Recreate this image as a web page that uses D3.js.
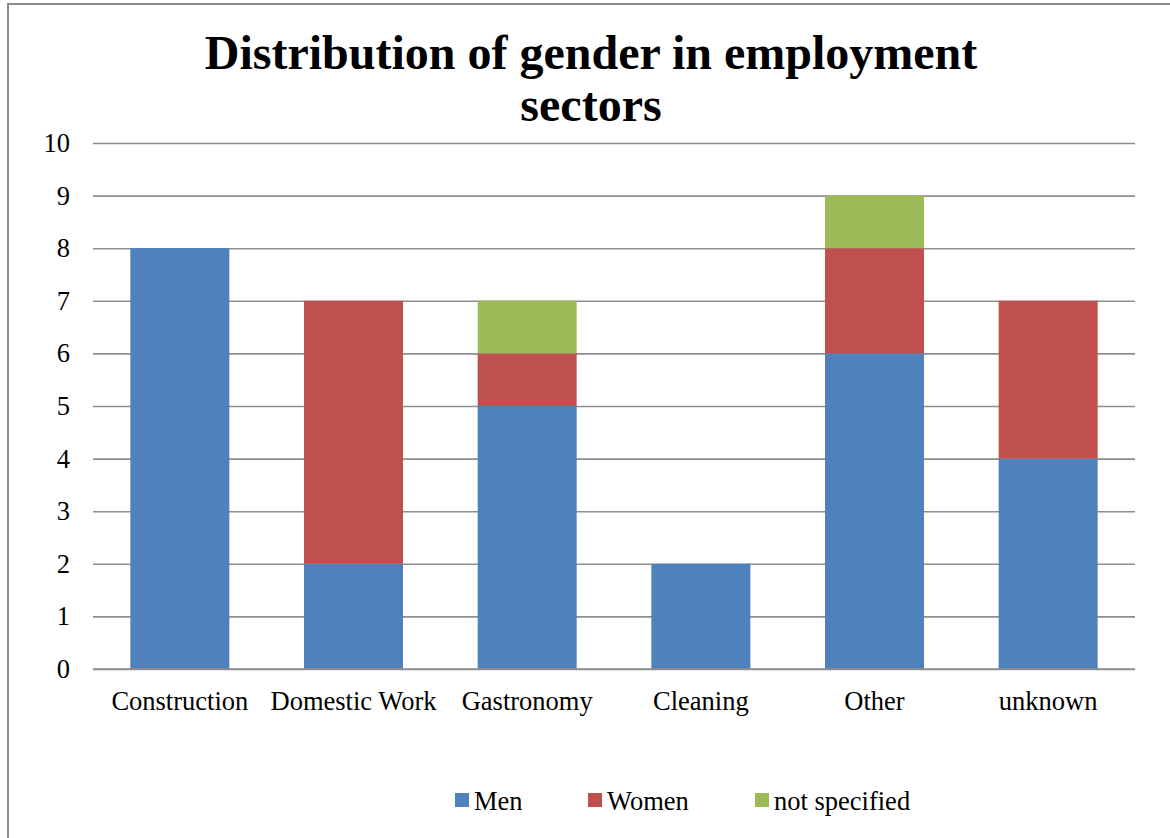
<!DOCTYPE html>
<html>
<head>
<meta charset="utf-8">
<script src="https://cdn.jsdelivr.net/npm/d3@7"></script>
<style>
  html, body { margin: 0; padding: 0; background: #fff; }
  svg { display: block; }
  svg text { font-family: "Liberation Serif", "Times New Roman", serif !important; }
</style>
</head>
<body>
<svg id="chart" width="1170" height="838"></svg>
<script>
// Sectors and head counts per gender
const sectors = ["Construction", "Domestic Work", "Gastronomy", "Cleaning", "Other", "unknown"];
const seriesNames = ["Men", "Women", "not specified"];
const men = [8, 2, 5, 2, 6, 4];
const women = [0, 5, 1, 0, 2, 3];
const notSpecified = [0, 0, 1, 0, 1, 0];
const yTicks = [0, 1, 2, 3, 4, 5, 6, 7, 8, 9, 10];
const colors = ["#4F81BD", "#C0504D", "#9BBB59"];
const titleLines = ["Distribution of gender in employment", "sectors"];

const rows = sectors.map((s, i) => ({
  sector: s,
  "Men": men[i],
  "Women": women[i],
  "not specified": notSpecified[i]
}));

const svg = d3.select("#chart");
const plot = { left: 93, right: 1135, top: 143, bottom: 669 };

// outer chart frame
svg.append("rect")
  .attr("x", 8).attr("y", 4)
  .attr("width", 1180).attr("height", 860)
  .attr("fill", "none")
  .attr("stroke", "#8c8c8c")
  .attr("stroke-width", 2);

// title
const title = svg.append("text")
  .attr("text-anchor", "middle")
  .attr("font-weight", "bold")
  .attr("font-size", 48)
  .attr("fill", "#000");
titleLines.forEach((t, i) => {
  title.append("tspan").attr("x", 591).attr("y", 69 + i * 52).text(t);
});

const x = d3.scaleBand()
  .domain(sectors)
  .range([plot.left, plot.right])
  .paddingInner(0.43)
  .paddingOuter(0.215);

const y = d3.scaleLinear()
  .domain([0, 10])
  .range([plot.bottom, plot.top]);

// horizontal gridlines with value labels
const yAxis = d3.axisLeft(y)
  .tickValues(yTicks)
  .tickSize(-(plot.right - plot.left))
  .tickPadding(23)
  .tickFormat(d3.format("d"));

const gy = svg.append("g")
  .attr("transform", `translate(${plot.left},0)`)
  .call(yAxis);
gy.select(".domain").remove();
gy.selectAll(".tick line")
  .attr("stroke", "#8e8e8e")
  .attr("stroke-width", 1.6);
gy.selectAll(".tick text")
  .attr("font-size", 26.5)
  .attr("fill", "#000");

// stacked bars
const stack = d3.stack().keys(seriesNames);
const layers = stack(rows);

svg.append("g")
  .selectAll("g")
  .data(layers)
  .join("g")
  .attr("fill", (d, i) => colors[i])
  .selectAll("rect")
  .data(d => d.filter(s => s[1] - s[0] > 0))
  .join("rect")
  .attr("x", d => x(d.data.sector))
  .attr("width", x.bandwidth())
  .attr("y", d => y(d[1]))
  .attr("height", d => y(d[0]) - y(d[1]));

// baseline drawn above bars
svg.append("line")
  .attr("x1", plot.left).attr("x2", plot.right)
  .attr("y1", y(0)).attr("y2", y(0))
  .attr("stroke", "#8e8e8e")
  .attr("stroke-width", 1.6);

// category labels
const xAxis = d3.axisBottom(x).tickSize(0).tickPadding(22);
const gx = svg.append("g")
  .attr("transform", `translate(0,${plot.bottom})`)
  .call(xAxis);
gx.select(".domain").remove();
gx.selectAll(".tick text")
  .attr("font-size", 26.5)
  .attr("fill", "#000");

// legend
const legendX = [455, 588, 755];
const legend = svg.append("g")
  .selectAll("g")
  .data(seriesNames)
  .join("g")
  .attr("transform", (d, i) => `translate(${legendX[i]},793)`);
legend.append("rect")
  .attr("width", 14).attr("height", 14)
  .attr("fill", (d, i) => colors[i]);
legend.append("text")
  .attr("x", 19).attr("y", 17)
  .attr("font-size", 26.5)
  .attr("fill", "#000")
  .text(d => d);
</script>
</body>
</html>
